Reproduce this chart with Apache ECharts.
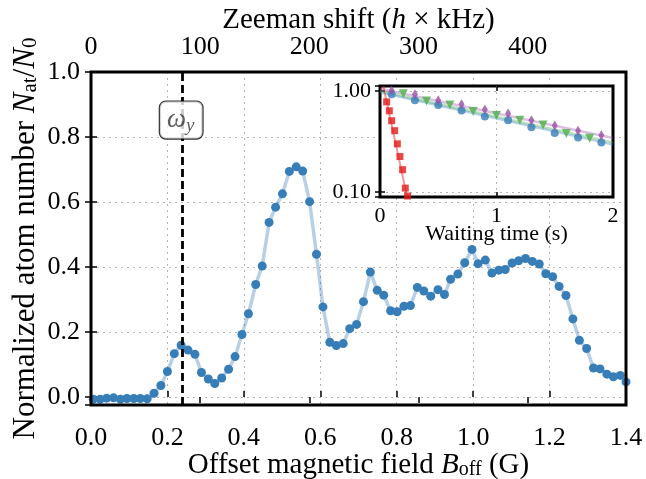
<!DOCTYPE html>
<html>
<head>
<meta charset="utf-8">
<script src="https://cdn.jsdelivr.net/npm/echarts@6/dist/echarts.min.js"></script>
<style>
  html, body { margin: 0; padding: 0; background: #fff; }
  #chart { width: 646px; height: 479px; }
</style>
</head>
<body>
<div id="chart"></div>
<script>
// Main scan: atom fraction vs offset field
const fieldG = [
  0.006, 0.024, 0.041, 0.059, 0.077, 0.094, 0.112, 0.129, 0.147, 0.165,
  0.183, 0.200, 0.218, 0.236, 0.254, 0.272, 0.289, 0.307, 0.324, 0.342,
  0.360, 0.377, 0.395, 0.412, 0.431, 0.448, 0.466, 0.483, 0.501, 0.519,
  0.537, 0.554, 0.572, 0.590, 0.607, 0.625, 0.642, 0.660, 0.677, 0.695,
  0.713, 0.731, 0.749, 0.766, 0.784, 0.801, 0.819, 0.836, 0.854, 0.871,
  0.889, 0.908, 0.925, 0.941, 0.960, 0.978, 0.997, 1.013, 1.032, 1.049,
  1.067, 1.084, 1.102, 1.119, 1.137, 1.155, 1.173, 1.190, 1.208, 1.225,
  1.243, 1.261, 1.278, 1.297, 1.315, 1.332, 1.350, 1.367, 1.385, 1.400
];
const atomFraction = [
  -0.007, -0.007, -0.004, -0.003, -0.007, -0.005, -0.005, -0.005, -0.006, 0.011,
  0.035, 0.078, 0.133, 0.159, 0.144, 0.131, 0.075, 0.055, 0.041, 0.058,
  0.085, 0.124, 0.192, 0.256, 0.346, 0.403, 0.537, 0.584, 0.625, 0.694,
  0.708, 0.695, 0.601, 0.439, 0.277, 0.168, 0.158, 0.164, 0.210, 0.223,
  0.293, 0.384, 0.328, 0.313, 0.265, 0.262, 0.279, 0.281, 0.337, 0.326,
  0.310, 0.330, 0.315, 0.362, 0.378, 0.413, 0.454, 0.410, 0.421, 0.381,
  0.390, 0.392, 0.412, 0.419, 0.426, 0.417, 0.409, 0.379, 0.370, 0.340,
  0.312, 0.240, 0.174, 0.149, 0.089, 0.086, 0.070, 0.062, 0.066, 0.046
];
const omegaYField = 0.236;
const zeemanMax = 490; // kHz at 1.4 G

// Inset: lifetime curves
const redTime = [0.057, 0.080, 0.100, 0.126, 0.149, 0.171, 0.194, 0.217, 0.237];
const redFrac = [0.78, 0.636, 0.507, 0.404, 0.299, 0.224, 0.166, 0.109, 0.091];
const redFitTime = [0.028, 0.233];
const redFitFrac = [1.12, 0.089];

const blueTime = [0.1, 0.3, 0.5, 0.7, 0.9, 1.1, 1.3, 1.5, 1.7, 1.9];
const blueFrac = [0.927, 0.81, 0.728, 0.641, 0.56, 0.514, 0.436, 0.384, 0.345, 0.308];
const blueFitTime = [0, 2];
const blueFitFrac = [0.97, 0.294];

const greenTime = [0.2, 0.4, 0.6, 0.8, 1.0, 1.2, 1.4, 1.6, 1.8];
const greenFrac = [0.94, 0.797, 0.728, 0.626, 0.572, 0.514, 0.459, 0.38, 0.34];
const greenFitTime = [0, 2];
const greenFitFrac = [1.0, 0.308];

const purpleTime = [0.1, 0.3, 0.5, 0.7, 0.9, 1.1, 1.3, 1.5, 1.7, 1.9];
const purpleFrac = [1.01, 0.927, 0.81, 0.739, 0.655, 0.598, 0.514, 0.456, 0.404, 0.364];
const purpleFitTime = [0, 2];
const purpleFitFrac = [1.05, 0.342];

const pairs = (xs, ys) => xs.map((x, i) => [x, ys[i]]);

const FONT = 'Liberation Serif';
const dotted = { color: '#b5b5b5', width: 1, type: [2, 4] };

// axis title style with italic symbols and subscripts
function nameStyle(size) {
  return {
    fontFamily: FONT, fontSize: size, color: '#000',
    rich: {
      i: { fontFamily: FONT, fontStyle: 'italic', fontSize: size },
      sub: { fontFamily: FONT, fontSize: Math.round(size * 0.68), padding: [10, 0, 0, 0] }
    }
  };
}
const labelStyle = { fontFamily: FONT, fontSize: 26, color: '#000' };
const tickIn = { show: true, inside: true, length: 6, lineStyle: { color: '#000', width: 1.5 } };
const insetTick = { show: true, inside: true, length: 5, lineStyle: { color: '#000', width: 1.5 } };
const insetLabel = { fontFamily: FONT, fontSize: 22, color: '#000' };
const gridLines = { show: true, showMinLine: false, showMaxLine: false, lineStyle: dotted };

const onStep = (v, step) => Math.abs(v / step - Math.round(v / step)) < 1e-6;

const chart = echarts.init(document.getElementById('chart'));
chart.setOption({
  animation: false,
  backgroundColor: '#fff',
  grid: [
    { left: 91, right: 20, top: 72, bottom: 74, show: true, z: 10, outerBoundsMode: 'none',
      backgroundColor: 'transparent', borderColor: '#000', borderWidth: 3 },
    { left: 380, right: 33, top: 86, height: 111, show: true, z: 3, outerBoundsMode: 'none',
      backgroundColor: '#fff', borderColor: '#000', borderWidth: 3 }
  ],
  xAxis: [
    {
      gridIndex: 0, type: 'value', min: 0, max: 1.4, interval: 0.2,
      name: 'Offset magnetic field {i|B}{sub|off} (G)',
      nameLocation: 'middle', nameGap: 45, nameMoveOverlap: false, nameTextStyle: nameStyle(29),
      axisLine: { show: false }, axisTick: tickIn,
      axisLabel: Object.assign({ margin: 20, formatter: v => v.toFixed(1) }, labelStyle),
      splitLine: gridLines
    },
    {
      gridIndex: 0, type: 'value', position: 'top', min: 0, max: zeemanMax, interval: 100,
      name: 'Zeeman shift ({i|h} × kHz)',
      nameLocation: 'middle', nameGap: 37, nameMoveOverlap: false, nameTextStyle: nameStyle(29),
      axisLine: { show: false }, axisTick: tickIn,
      axisLabel: Object.assign({ margin: 12, formatter: v => onStep(v, 100) ? String(v) : '' }, labelStyle),
      splitLine: { show: false }
    },
    {
      gridIndex: 1, type: 'value', min: 0, max: 2, interval: 1, z: 4,
      name: 'Waiting time (s)', nameLocation: 'middle', nameGap: 26, nameMoveOverlap: false,
      nameTextStyle: insetLabel,
      axisLine: { show: false }, axisTick: insetTick,
      axisLabel: Object.assign({ margin: 8 }, insetLabel),
      splitLine: gridLines
    },
    {
      gridIndex: 1, type: 'value', position: 'top', min: 0, max: 2, interval: 1, z: 4,
      axisLine: { show: false }, axisTick: insetTick,
      axisLabel: { show: false }, splitLine: { show: false }
    }
  ],
  yAxis: [
    {
      gridIndex: 0, type: 'value', min: -0.025, max: 1.0,
      name: 'Normalized atom number {i|N}{sub|at}/{i|N}{sub|0}',
      nameLocation: 'middle', nameGap: 50, nameMoveOverlap: false, nameTextStyle: nameStyle(31),
      axisLine: { show: false }, axisTick: tickIn,
      axisLabel: Object.assign({ margin: 11, formatter: v => onStep(v, 0.2) ? v.toFixed(1) : '' }, labelStyle),
      splitLine: gridLines
    },
    {
      gridIndex: 0, type: 'value', position: 'right', min: -0.025, max: 1.0,
      axisLine: { show: false }, axisTick: tickIn,
      axisLabel: { show: false }, splitLine: { show: false }
    },
    {
      gridIndex: 1, type: 'log', logBase: 10, min: 0.089, max: 1.12, z: 4,
      axisLine: { show: false }, axisTick: insetTick,
      axisLabel: Object.assign({
        margin: 9,
        formatter: v => Math.abs(v - 1) < 1e-6 ? '1.00' : (Math.abs(v - 0.1) < 1e-6 ? '0.10' : '')
      }, insetLabel),
      splitLine: gridLines
    },
    {
      gridIndex: 1, type: 'log', logBase: 10, min: 0.089, max: 1.12, position: 'right', z: 4,
      axisLine: { show: false }, axisTick: insetTick,
      axisLabel: { show: false }, splitLine: { show: false }
    }
  ],
  series: [
    {
      name: 'omega_y', type: 'line', xAxisIndex: 0, yAxisIndex: 0, data: [],
      markLine: {
        silent: true, symbol: 'none', label: { show: false },
        lineStyle: { color: '#000', width: 2.8, type: [8, 4] },
        data: [{ xAxis: omegaYField }]
      }
    },
    {
      name: 'omega_y label', type: 'scatter', xAxisIndex: 0, yAxisIndex: 0, z: 6,
      symbolSize: 0, silent: true,
      data: [[omegaYField, 0.852]],
      label: {
        show: true, position: 'inside',
        formatter: '{w|ω}{s|y}',
        backgroundColor: '#fff', borderColor: '#000', borderWidth: 1.2, borderRadius: 6,
        padding: [3, 8, 3, 7],
        rich: {
          w: { fontFamily: FONT, fontStyle: 'italic', fontSize: 27 },
          s: { fontFamily: FONT, fontStyle: 'italic', fontSize: 19, padding: [12, 0, 0, 0] }
        }
      }
    },
    {
      name: 'scan', type: 'line', xAxisIndex: 0, yAxisIndex: 0, z: 3,
      data: pairs(fieldG, atomFraction),
      symbol: 'circle', symbolSize: 9, showAllSymbol: true,
      itemStyle: { color: '#377eb8' },
      lineStyle: { color: 'rgba(55,126,184,0.36)', width: 3.5 }
    },
    // inset fits
    {
      type: 'line', xAxisIndex: 2, yAxisIndex: 2, z: 5, symbol: 'none',
      data: pairs(purpleFitTime, purpleFitFrac),
      lineStyle: { color: 'rgba(152,78,163,0.35)', width: 2.5 }
    },
    {
      type: 'line', xAxisIndex: 2, yAxisIndex: 2, z: 5, symbol: 'none',
      data: pairs(greenFitTime, greenFitFrac),
      lineStyle: { color: 'rgba(77,175,74,0.35)', width: 2.5 }
    },
    {
      type: 'line', xAxisIndex: 2, yAxisIndex: 2, z: 5, symbol: 'none',
      data: pairs(blueFitTime, blueFitFrac),
      lineStyle: { color: 'rgba(55,126,184,0.35)', width: 2.5 }
    },
    {
      type: 'line', xAxisIndex: 2, yAxisIndex: 2, z: 5, symbol: 'none',
      data: pairs(redFitTime, redFitFrac),
      lineStyle: { color: 'rgba(228,26,28,0.45)', width: 2 }
    },
    // inset points
    {
      type: 'scatter', xAxisIndex: 2, yAxisIndex: 2, z: 6,
      data: pairs(blueTime, blueFrac), symbol: 'circle', symbolSize: 8,
      itemStyle: { color: '#377eb8' }
    },
    {
      type: 'scatter', xAxisIndex: 2, yAxisIndex: 2, z: 6,
      data: pairs(greenTime, greenFrac), symbol: 'triangle', symbolRotate: 180, symbolSize: 9,
      itemStyle: { color: '#4daf4a' }
    },
    {
      type: 'scatter', xAxisIndex: 2, yAxisIndex: 2, z: 6,
      data: pairs(purpleTime, purpleFrac), symbol: 'diamond', symbolSize: [6, 10],
      itemStyle: { color: '#984ea3' }
    },
    {
      type: 'scatter', xAxisIndex: 2, yAxisIndex: 2, z: 6,
      data: pairs(redTime, redFrac), symbol: 'rect', symbolSize: 7,
      itemStyle: { color: '#e41a1c' }
    }
  ]
});

window.addEventListener('resize', () => chart.resize());
</script>
</body>
</html>
